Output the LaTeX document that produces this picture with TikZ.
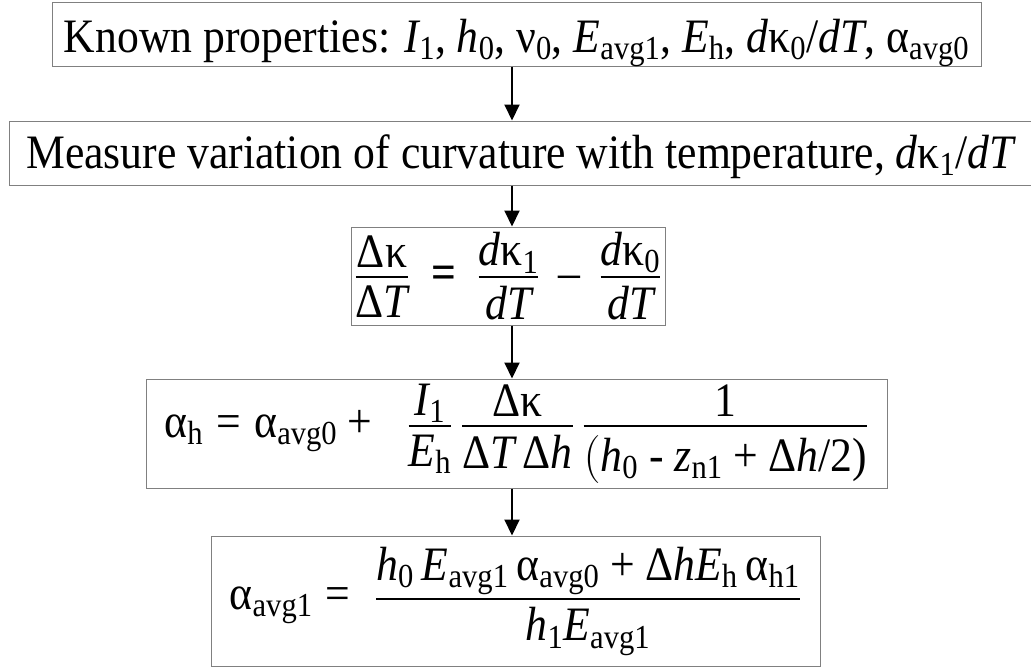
\documentclass[tikz,border=0pt]{standalone}
\usepackage{amsmath}
\usepackage{fix-cm}
\usepackage{fontspec}
\setmainfont{Liberation Serif}[FakeStretch=0.91]
\usetikzlibrary{arrows.meta}
\newcommand\ti[1]{\text{\itshape #1}}
\newcommand\up[1]{\text{\upshape #1}}
\newbox\frNum \newbox\frDen \newdimen\frW \newdimen\frD
\newcommand\fr[2]{\mathord{%
  \setbox\frNum=\hbox{$\displaystyle#1$}\setbox\frDen=\hbox{$\displaystyle#2$}%
  \frW=\wd\frNum \ifdim\wd\frDen>\frW \frW=\wd\frDen\fi
  \frD=\dimexpr9pt-\dp\frNum\relax \ifdim\frD<3pt \frD=3pt\fi
  \raise11pt\hbox{\kern1.5pt\vbox{\hbox to\frW{\hss\box\frNum\hss}\kern\frD
    \hrule height1pt depth1pt}\kern-\frW
    \vtop{\kern9pt\hbox to\frW{\hss\box\frDen\hss}}\kern1.5pt}}}
\tikzset{
  box/.style={draw=black!50, line width=1pt, inner sep=0pt, align=center,
    font=\fontsize{48}{54}\selectfont},
  conn/.style={line width=2pt, -{Triangle[length=16pt,width=15pt]}}
}
\begin{document}
\begin{tikzpicture}[x=1pt,y=-1pt]
\useasboundingbox (0,0) rectangle (1031,667);
\coordinate (ax) at (512,0);
\node[box, minimum width=929pt, text height=50pt, text depth=14pt] (b1) at (516.5,34)
  {Known properties: $\ti{I}_{\up1}$, $\ti{h}_{\up0}$, $\up{ν}_{\up0}$, $\ti{E}_{\up{avg1}}$, $\ti{E}_{\up h}$, $\ti{d}\up{κ}_{\up0}\up{/}\ti{dT}$, $\up{α}_{\up{avg0}}$};
\node[box, minimum width=1022pt, text height=47pt, text depth=17pt] (b2) at (520,153)
  {Measure variation of curvature with temperature, $\ti{d}\up{κ}_{\up1}\up{/}\ti{dT}$};
\node[box, minimum width=314pt, minimum height=98pt] (b3) at (508,276)
  {$\fr{\up{Δκ}}{\up{Δ}\ti{T}}\,\mathrel{\up{\bfseries =}}\,\fr{\ti{d}\up{κ}_{\up1}}{\ti{dT}}\,\mathbin{\up{–}}\,\fr{\ti{d}\up{κ}_{\up0}}{\ti{dT}}$};
\node[box, minimum width=741pt, minimum height=109pt] (b4) at (516.5,433.5)
  {$\up{α}_{\up h}\mathrel{\up{=}}\up{α}_{\up{avg0}}\mathbin{\up{+}}\enskip
   \fr{\ti{I}_{\up1}}{\ti{E}_{\up h}}\,\fr{\up{Δκ}}{\up{Δ}\ti{T}\,\up{Δ}\ti{h}}\,
   \fr{\up1}{(\ti{h}_{\up0}\ \up{-}\ \ti{z}_{\up{n1}}\mathbin{\up{+}}\up{Δ}\ti{h}\up{/2)}}$};
\node[box, minimum width=609pt, minimum height=130pt] (b5) at (515.5,601)
  {$\up{α}_{\up{avg1}}\mathrel{\up{=}}\ \fr{\ti{h}_{\up0}\,\ti{E}_{\up{avg1}}\,\up{α}_{\up{avg0}}\mathbin{\up{+}}\up{Δ}\ti{hE}_{\up h}\,\up{α}_{\up{h1}}}{\ti{h}_{\up1}\ti{E}_{\up{avg1}}}$};
\draw[conn] (b1.south -| ax) -- (b2.north -| ax);
\draw[conn] (b2.south -| ax) -- (b3.north -| ax);
\draw[conn] (b3.south -| ax) -- (b4.north -| ax);
\draw[conn] (b4.south -| ax) -- (b5.north -| ax);
\end{tikzpicture}
\end{document}
